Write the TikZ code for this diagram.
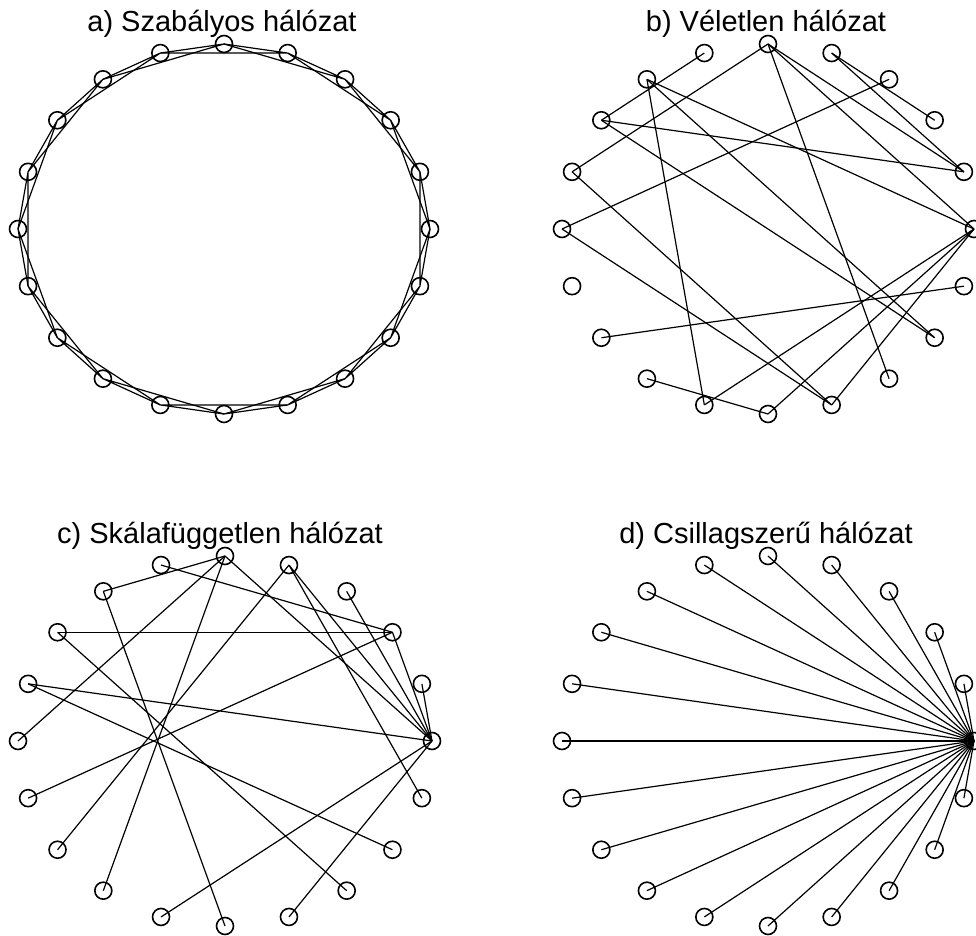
\documentclass[tikz,border=0pt]{standalone}
\usepackage{fontspec}
\setmainfont{Liberation Sans}
\usetikzlibrary{calc}

\begin{document}
\begin{tikzpicture}[x=0.5pt,y=-0.5pt,
  netnode/.style={draw,circle,line width=0.8pt,minimum size=8.5pt,inner sep=0pt},
  netedge/.style={line width=0.6pt},
  nettitle/.style={anchor=base,font=\fontsize{14.5}{17}\selectfont}
]
  \useasboundingbox (0,0) rectangle (976,936);
  % a) regular ring lattice
  \node[nettitle] (tita) at (222,32) {a) Szabályos hálózat};
  \foreach \k in {0,...,19}
    \node[netnode] (reg\k) at ({224+206*cos(18*\k)},{229-185*sin(18*\k)}) {};
  \foreach \k in {0,...,19}{
    \pgfmathtruncatemacro\one{mod(\k+1,20)}
    \pgfmathtruncatemacro\two{mod(\k+2,20)}
    \draw[netedge] (reg\k.center) -- (reg\one.center) (reg\k.center) -- (reg\two.center);
  }
  % b) random graph
  \node[nettitle] (titb) at (766,32) {b) Véletlen hálózat};
  \foreach \k in {0,...,19}
    \node[netnode] (rnd\k) at ({768+206*cos(18*\k)},{229-185*sin(18*\k)}) {};
  \foreach \i/\j in {6/8,5/9,5/1,5/0,5/17,4/2,4/1,3/10,8/1,7/14,7/18,7/0,
                     8/18,9/16,10/16,0/14,0/15,0/16,19/12,13/15}
    \draw[netedge] (rnd\i.center) -- (rnd\j.center);
  % c) scale-free graph
  \node[nettitle] (titc) at (220,544) {c) Skálafüggetlen hálózat};
  \foreach \k in {0,...,19}
    \node[netnode] (sf\k) at ({225+207*cos(18*\k)},{741-185*sin(18*\k)}) {};
  \foreach \i/\j in {5/7,5/10,5/13,5/0,6/2,4/12,4/19,4/0,3/0,2/0,1/0,
                     8/2,8/17,9/0,9/18,7/15,11/2,14/0,16/0}
    \draw[netedge] (sf\i.center) -- (sf\j.center);
  % d) star
  \node[nettitle] (titd) at (766,544) {d) Csillagszerű hálózat};
  \foreach \k in {0,...,19}
    \node[netnode] (star\k) at ({768+206*cos(18*\k)},{741-185*sin(18*\k)}) {};
  \foreach \k in {1,...,19}
    \draw[netedge] (star0.center) -- (star\k.center);
\end{tikzpicture}
\end{document}
